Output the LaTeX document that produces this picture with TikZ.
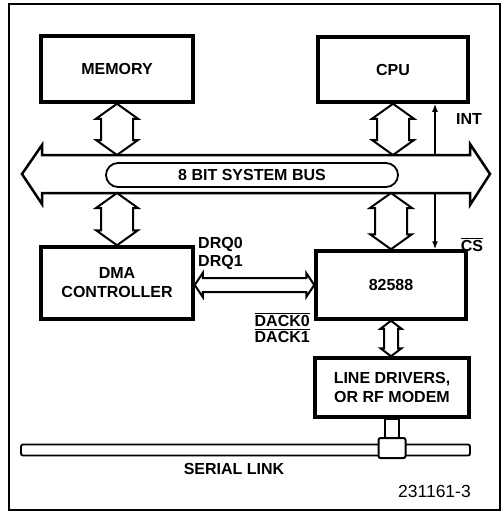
\documentclass[tikz,border=0pt]{standalone}
\usepackage{fontspec}
\setmainfont{Liberation Sans}
\usetikzlibrary{calc,arrows.meta}
% overlined signal name
\newcommand\lowact[1]{\setbox0\hbox{#1}\rlap{\rule[\dimexpr\ht0+1.6pt\relax]{\wd0}{1.3pt}}\box0}
% hollow double arrow, vertical: top tip, bottom tip, shaft half width, head half width, head length
\newcommand\vfat[5]{%
  \draw[fatarrow] let \p1=(#1), \p2=(#2) in
    (\p1) -- (\x1+#4pt,\y1-#5pt) -- (\x1+#3pt,\y1-#5pt) -- (\x1+#3pt,\y2+#5pt)
    -- (\x1+#4pt,\y2+#5pt) -- (\x1,\y2) -- (\x1-#4pt,\y2+#5pt) -- (\x1-#3pt,\y2+#5pt)
    -- (\x1-#3pt,\y1-#5pt) -- (\x1-#4pt,\y1-#5pt) -- cycle;}
% same, horizontal: left tip, right tip
\newcommand\hfat[5]{%
  \draw[fatarrow] let \p1=(#1), \p2=(#2) in
    (\p1) -- (\x1+#5pt,\y1+#4pt) -- (\x1+#5pt,\y1+#3pt) -- (\x2-#5pt,\y1+#3pt)
    -- (\x2-#5pt,\y1+#4pt) -- (\x2,\y1) -- (\x2-#5pt,\y1-#4pt) -- (\x2-#5pt,\y1-#3pt)
    -- (\x1+#5pt,\y1-#3pt) -- (\x1+#5pt,\y1-#4pt) -- cycle;}
\tikzset{
  unit/.style={draw, line width=3.5pt, align=center, inner sep=0pt,
    font=\fontsize{16}{19}\selectfont\bfseries},
  lbl/.style={inner sep=0pt, font=\fontsize{16}{16}\selectfont\bfseries},
  fatarrow/.style={line width=2pt, line join=miter, fill=white},
  sig/.style={line width=1.5pt, -{Latex[length=8pt,width=6pt]}},
}
\begin{document}
\begin{tikzpicture}[x=1pt,y=-1pt]
  \useasboundingbox (0,0) rectangle (502,512);
  \draw[line width=1.2pt] (9,4) rectangle (500,510);

  % units
  \node[unit, minimum width=152pt, minimum height=66pt] (mem) at (117,69) {MEMORY};
  \node[unit, minimum width=150pt, minimum height=65pt] (cpu) at (393,69.5) {CPU};
  \node[unit, minimum width=152pt, minimum height=72pt] (dma) at (117,283) {DMA\\CONTROLLER};
  \node[unit, minimum width=150pt, minimum height=68pt] (lan) at (391,285) {82588};
  \node[unit, minimum width=154pt, minimum height=59pt] (drv) at (392,387.5) {LINE DRIVERS,\\OR RF MODEM};

  % system bus
  \coordinate (bustop) at (0,155);
  \coordinate (busbot) at (0,193);
  \draw[line width=2.5pt, line join=miter] (22,174) -- (42,145) -- (42,155) -- (470,155) -- (470,144)
    -- (490,174) -- (470,205) -- (470,193) -- (42,193) -- (42,204) -- cycle;
  \node[draw, line width=1.8pt, rounded corners=12pt, minimum width=292pt, minimum height=24pt,
    font=\fontsize{16}{16}\selectfont\bfseries] (bus) at (252,175) {8 BIT SYSTEM BUS};

  % bus links
  \vfat{mem.south}{mem.south |- bustop}{16}{21}{15}
  \vfat{cpu.south}{cpu.south |- bustop}{16}{21}{15}
  \vfat{dma.north |- busbot}{dma.north}{16}{21}{15}
  \vfat{lan.north |- busbot}{lan.north}{16}{21}{15}
  \hfat{dma.east |- lan.west}{lan.west}{7}{12}{8}
  \vfat{lan.south}{drv.north}{7}{10.5}{8}

  % control lines
  \coordinate (intbus) at (435,155);
  \coordinate (csbus) at (435,193);
  \draw[sig] (intbus) -- (intbus |- cpu.south);
  \draw[sig] (csbus) -- (csbus |- lan.north);
  \node[lbl] (int) at (469,119) {INT};
  \node[lbl] (cs) at (472,245) {\lowact{CS}};
  \node[lbl, anchor=west] (drq0) at (198,244) {DRQ0};
  \node[lbl, anchor=west] (drq1) at (198,262) {DRQ1};
  \node[lbl, anchor=east] (dack0) at (310,320) {\lowact{DACK0}};
  \node[lbl, anchor=east] (dack1) at (310,336) {\lowact{DACK1}};

  % serial link
  \node[draw, line width=1.8pt, rounded corners=2pt, inner sep=0pt,
    minimum width=449pt, minimum height=11pt] (link) at (245.5,450) {};
  \draw[line width=2pt, fill=white] ($(drv.south)+(-7,0)$) rectangle ($(drv.south |- 0,440)+(7,0)$);
  \node[draw, fill=white, line width=2pt, rounded corners=2pt, inner sep=0pt,
    minimum width=27pt, minimum height=20pt] (tap) at (392,448) {};
  \node[lbl] (serial) at (234,469) {SERIAL LINK};
  \node[inner sep=0pt, anchor=east, font=\fontsize{17.5}{17.5}\selectfont] (fig) at (471,491) {231161-3};
\end{tikzpicture}
\end{document}
